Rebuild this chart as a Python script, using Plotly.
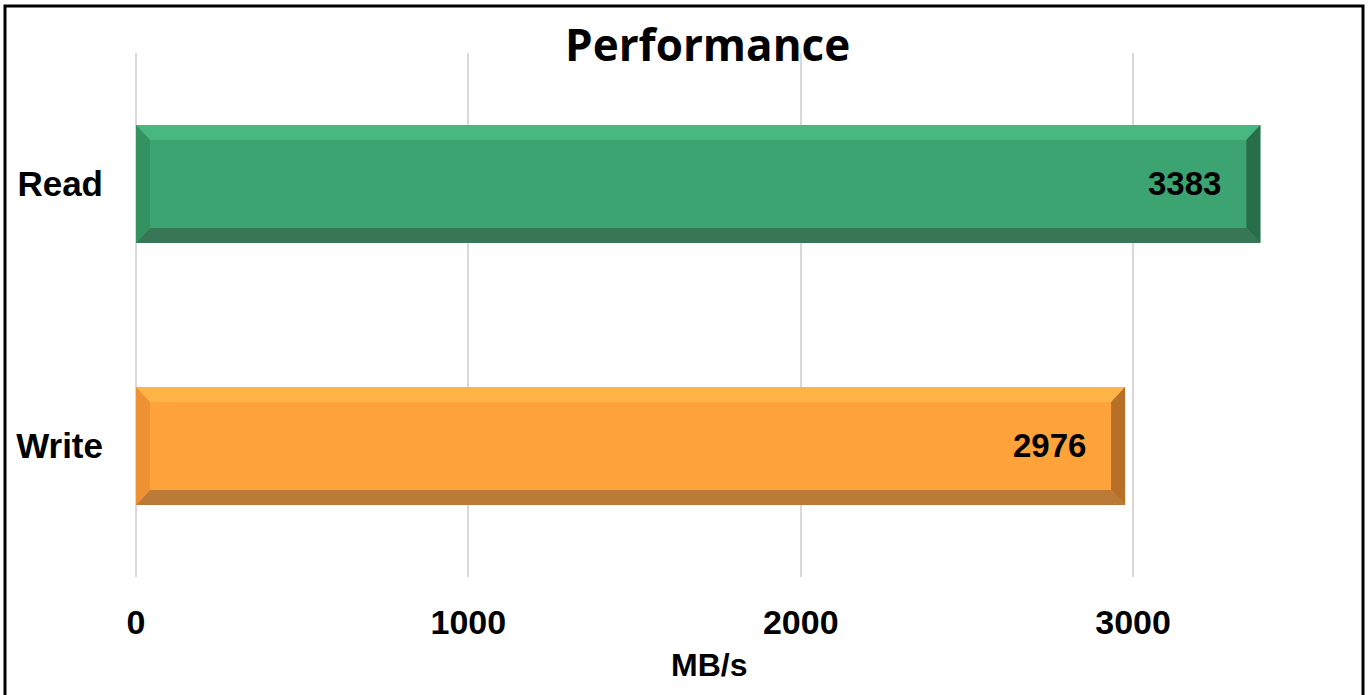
import plotly.graph_objects as go

categories = ["Read", "Write"]
values = [3383, 2976]
tick_vals = [0, 1000, 2000, 3000]
tick_text = ["0", "1000", "2000", "3000"]
x_title = "MB/s"
chart_title = "Performance"

main_colors = ["#3CA470", "#FDA33A"]
top_colors = ["#48B880", "#FEB447"]
left_colors = ["#33925F", "#EE9132"]
bottom_colors = ["#377756", "#BC7A38"]
right_colors = ["#286E48", "#B86F28"]

W, H = 1370, 695
ML, MR, MT, MB = 136, 104, 53, 118
XMAX = 3400
BAR_W = 0.45

plot_w = W - ML - MR
plot_h = H - MT - MB
px_per_x = plot_w / XMAX
px_per_cat = plot_h / len(categories)
dx = 14 / px_per_x
dy = 15 / px_per_cat

pos = list(range(len(categories)))

fig = go.Figure()
fig.add_trace(go.Bar(
    x=values, y=pos, orientation="h", width=BAR_W,
    marker=dict(color=main_colors, line=dict(width=0)),
    hovertext=categories, hoverinfo="x+text", showlegend=False,
))


def path(pts):
    return "M " + " L ".join(f"{a},{b}" for a, b in pts) + " Z"


shapes = []
for i, v in enumerate(values):
    top = pos[i] - BAR_W / 2
    bot = pos[i] + BAR_W / 2
    shapes.append(dict(type="path", xref="x", yref="y", line=dict(width=0),
                       fillcolor=top_colors[i],
                       path=path([(0, top), (v, top), (v - dx, top + dy), (dx, top + dy)])))
    shapes.append(dict(type="path", xref="x", yref="y", line=dict(width=0),
                       fillcolor=bottom_colors[i],
                       path=path([(0, bot), (v, bot), (v - dx, bot - dy), (dx, bot - dy)])))
    shapes.append(dict(type="path", xref="x", yref="y", line=dict(width=0),
                       fillcolor=left_colors[i],
                       path=path([(0, top), (dx, top + dy), (dx, bot - dy), (0, bot)])))
    shapes.append(dict(type="path", xref="x", yref="y", line=dict(width=0),
                       fillcolor=right_colors[i],
                       path=path([(v, top), (v - dx, top + dy), (v - dx, bot - dy), (v, bot)])))

# outer chart border
shapes.append(dict(type="rect", xref="paper", yref="paper",
                   x0=(5 - ML) / plot_w, x1=(1363 - ML) / plot_w,
                   y0=(H - MB - 710) / plot_h, y1=(H - MB - 6) / plot_h,
                   line=dict(color="#000000", width=3), fillcolor="rgba(0,0,0,0)",
                   layer="above"))

annotations = []
for i, v in enumerate(values):
    annotations.append(dict(x=v, y=pos[i], xref="x", yref="y", text=str(v),
                            showarrow=False, xanchor="right", yanchor="middle",
                            xshift=-37, yshift=1,
                            font=dict(family="Liberation Sans, Arial", size=33, color="#000000",
                                      weight="bold")))

annotations.append(dict(x=(707 - ML) / plot_w, y=(H - MB - 44) / plot_h, xref="paper", yref="paper",
                        text="<b>" + chart_title + "</b>", showarrow=False,
                        xanchor="center", yanchor="middle",
                        font=dict(family="Open Sans", size=44, color="#000000")))

annotations.append(dict(x=(709 - ML) / plot_w, y=(H - MB - 665) / plot_h, xref="paper", yref="paper",
                        text="<b>" + x_title + "</b>", showarrow=False,
                        xanchor="center", yanchor="middle",
                        font=dict(family="Liberation Sans, Arial", size=32, color="#000000")))

fig.update_layout(
    width=W, height=H,
    margin=dict(l=ML, r=MR, t=MT, b=MB, pad=0),
    paper_bgcolor="white", plot_bgcolor="white",
    shapes=shapes, annotations=annotations,
    xaxis=dict(range=[0, XMAX], tickvals=tick_vals, ticktext=tick_text,
               showgrid=True, gridcolor="#D9D9D9", gridwidth=2,
               zeroline=True, zerolinecolor="#D9D9D9", zerolinewidth=2,
               showline=False, ticks="",
               tickfont=dict(family="Liberation Sans, Arial", size=34, color="#000000", weight="bold"),
               ticklabelstandoff=22),
    yaxis=dict(range=[len(categories) - 0.5, -0.5], tickvals=pos, ticktext=categories,
               showgrid=False, zeroline=False, showline=False, ticks="",
               tickfont=dict(family="Liberation Sans, Arial", size=35, color="#000000", weight="bold"),
               ticklabelstandoff=32),
)

fig.write_html("out.html")
